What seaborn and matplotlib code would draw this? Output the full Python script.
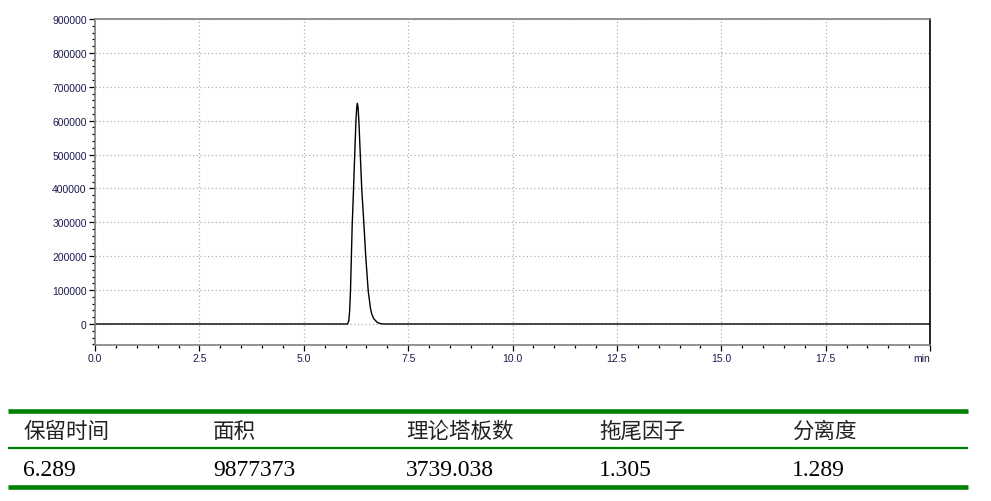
import matplotlib
matplotlib.use("Agg")
import matplotlib.pyplot as plt
import seaborn as sns
import numpy as np
from matplotlib.ticker import MultipleLocator

# chromatogram trace (min, signal)
times = [0.0, 6.05, 6.08, 6.10, 6.12, 6.14, 6.16, 6.19, 6.22, 6.25, 6.27,
         6.285, 6.30, 6.32, 6.355, 6.39, 6.44, 6.485, 6.545, 6.60, 6.63,
         6.68, 6.75, 6.82, 6.90, 20.0]
signal = [0, 0, 10000, 40000, 100000, 195000, 290000, 390000, 497000,
          600000, 640000, 651000, 640000, 600000, 497000, 396000, 297000,
          199000, 96000, 45000, 29000, 15000, 6000, 1500, 0, 0]

x_ticks = [0.0, 2.5, 5.0, 7.5, 10.0, 12.5, 15.0, 17.5, 20.0]
x_labels = ["0.0", "2.5", "5.0", "7.5", "10.0", "12.5", "15.0", "17.5", "min"]
y_ticks = [0, 100000, 200000, 300000, 400000, 500000, 600000, 700000, 800000, 900000]

headers = ["保留时间", "面积", "理论塔板数", "拖尾因子", "分离度"]
values = ["6.289", "9877373", "3739.038", "1.305", "1.289"]

sns.set_style("white")
plt.rcParams['font.family'] = ['Liberation Sans', 'DejaVu Sans']

fig = plt.figure(figsize=(9.91, 5.02), dpi=100)
ax = fig.add_axes([95 / 991, 1 - 346 / 502, (930 - 95) / 991, (346 - 20) / 502])

sns.lineplot(x=times, y=signal, ax=ax, color='black', linewidth=1.0)

ax.set_xlim(0, 20)
ax.set_ylim(-62000, 900000)
ax.set_xticks(x_ticks)
ax.set_xticklabels(x_labels)
ax.get_xticklabels()[-1].set_horizontalalignment('right')
ax.set_yticks(y_ticks)
ax.set_yticklabels([str(v) for v in y_ticks])
ax.xaxis.set_minor_locator(MultipleLocator(0.5))
ax.yaxis.set_minor_locator(MultipleLocator(20000))
ax.tick_params(which='major', direction='out', length=4.5, width=0.9,
               color='black', labelsize=7.5, labelcolor='#1a1a50', pad=1.5,
               left=True, bottom=True)
ax.tick_params(which='minor', direction='out', length=2.3, width=0.9,
               color='black', left=True, bottom=True)
ax.grid(True, which='major', color='#b0b0b0', linestyle=(0, (1, 2)), linewidth=0.9)
for side in ['left', 'bottom', 'top']:
    ax.spines[side].set_color('#808080')
    ax.spines[side].set_linewidth(1.2)
ax.spines['right'].set_color('black')
ax.spines['right'].set_linewidth(1.2)

# results table below the chromatogram
tab = fig.add_axes([0, 0, 1, 1], zorder=-1)
tab.set_xlim(0, 991)
tab.set_ylim(502, 0)
tab.axis('off')
green = '#008000'
tab.hlines([412, 488], 8, 968, color=green, linewidth=3.3)
tab.hlines([449], 8, 968, color=green, linewidth=1.6)

col_x = [23, 213, 406, 599, 792]
for cx, h, v in zip(col_x, headers, values):
    tab.text(cx, 432, h, fontsize=15.5, color='#222222', va='center', ha='left',
             family=['Noto Sans CJK SC', 'DejaVu Sans'])
    tab.text(cx, 476, v, fontsize=17, color='black', va='baseline', ha='left',
             family=['Liberation Serif', 'DejaVu Serif'])

fig.savefig('out.png', dpi=100)
